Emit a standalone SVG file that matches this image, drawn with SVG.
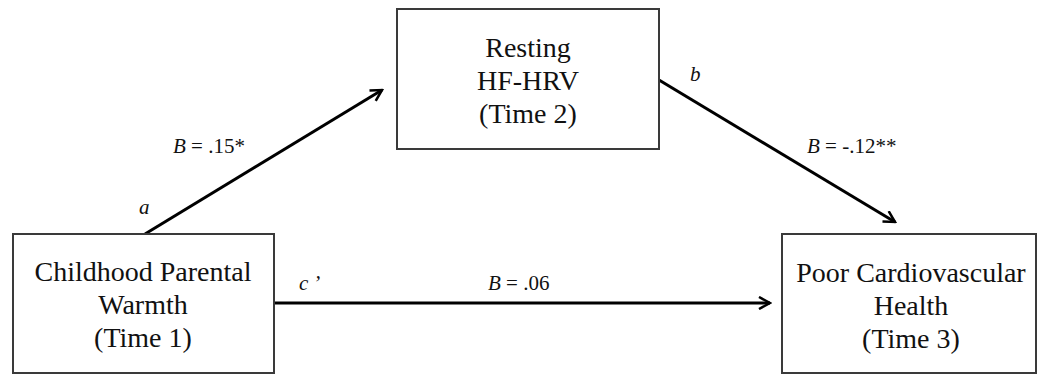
<svg xmlns="http://www.w3.org/2000/svg" width="1037" height="376" viewBox="0 0 1037 376">
<style>
.box{fill:#fff;stroke:#3a3a3a;stroke-width:2}
.t{font-family:"Liberation Serif","Times New Roman",serif;font-size:28px;fill:#111;text-anchor:middle}
.l{font-family:"Liberation Serif","Times New Roman",serif;font-size:21px;fill:#111}
.i{font-style:italic}
.c{stroke:#000;stroke-width:3;fill:none}
</style>
<defs>
<marker id="arr" viewBox="0 0 14 14" refX="12" refY="7" markerWidth="14" markerHeight="14" markerUnits="userSpaceOnUse" orient="auto">
<path d="M1,1 L12,7 L1,13" fill="none" stroke="#000" stroke-width="2.5"/>
</marker>
</defs>
<rect width="1037" height="376" fill="#fff"/>
<g id="connectors">
<line class="c" x1="145" y1="234" x2="382" y2="90" marker-end="url(#arr)"/>
<line class="c" x1="659" y1="80" x2="895" y2="222" marker-end="url(#arr)"/>
<line class="c" x1="274" y1="303" x2="770" y2="303" marker-end="url(#arr)"/>
<text class="l i" x="139" y="214">a</text>
<text class="l" x="173" y="153"><tspan class="i">B</tspan> = .15*</text>
<text class="l i" x="690" y="81">b</text>
<text class="l" x="807" y="153"><tspan class="i">B</tspan> = -.12**</text>
<text class="l i" x="299" y="290">c<tspan dx="5">’</tspan></text>
<text class="l" x="488" y="290"><tspan class="i">B</tspan> = .06</text>
</g>
<g id="node-warmth">
<rect class="box" x="13" y="234" width="261" height="139"/>
<text class="t" x="143" y="281">Childhood Parental</text>
<text class="t" x="143" y="314">Warmth</text>
<text class="t" x="143" y="347">(Time 1)</text>
</g>
<g id="node-hrv">
<rect class="box" x="397" y="9" width="262" height="140"/>
<text class="t" x="528" y="57">Resting</text>
<text class="t" x="528" y="90">HF-HRV</text>
<text class="t" x="528" y="123">(Time 2)</text>
</g>
<g id="node-cvh">
<rect class="box" x="782" y="234" width="254" height="139"/>
<text class="t" x="911" y="282">Poor Cardiovascular</text>
<text class="t" x="911" y="315">Health</text>
<text class="t" x="911" y="348">(Time 3)</text>
</g>
</svg>
